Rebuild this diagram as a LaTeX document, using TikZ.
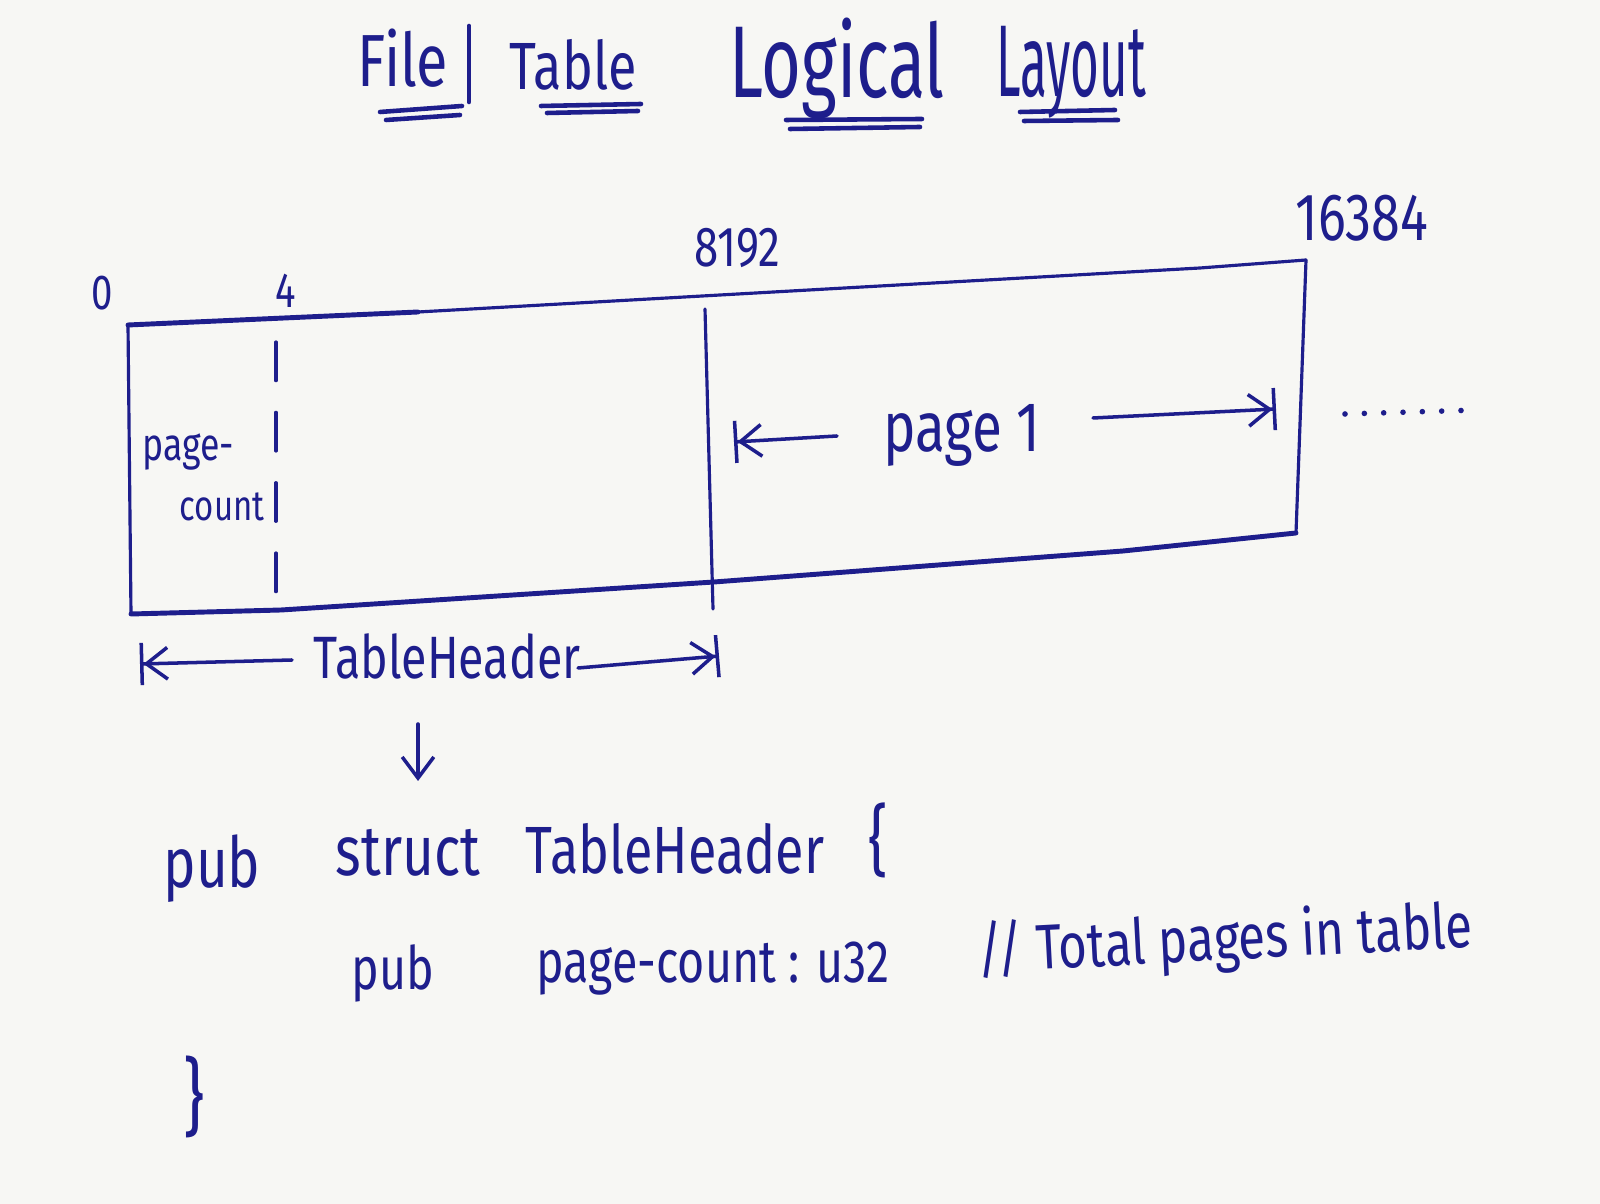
\documentclass[tikz,border=0pt]{standalone}
\usepackage{fontspec}
\usepackage{graphicx}
\newfontfamily\hand{Fira Sans}[FakeStretch=0.78]
\usetikzlibrary{arrows.meta}
\definecolor{ink}{RGB}{30,30,140}
\definecolor{paper}{RGB}{247,247,244}
\newcommand\squeeze[2]{\scalebox{#1}[1]{#2}}
\tikzset{
  lbl/.style={text=ink, inner sep=0pt},
  fs/.style={font={\hand\fontsize{#1}{#1}\selectfont}},
  boxline/.style={draw=ink, line width=0.9pt, line join=round, line cap=round},
  heavy/.style={draw=ink, line width=1.4pt, line join=round, line cap=round},
  ul/.style={draw=ink, line width=1.3pt, line cap=round},
  dimarrow/.style={draw=ink, line width=1pt, line cap=round,
    -{Straight Barb[length=6pt,width=9pt,line width=1pt]Bar[width=12pt,line width=1pt]}},
  downarrow/.style={draw=ink, line width=1pt, line cap=round,
    -{Straight Barb[length=6pt,width=9pt,line width=1pt]}}
}
\begin{document}
\begin{tikzpicture}[x=0.01cm,y=-0.01cm]
\fill[paper] (0,0) rectangle (1600,1204);
\useasboundingbox (0,0) rectangle (1600,1204);

% ---------- title ----------
\node[lbl,fs=21,anchor=base] (file) at (403,87) {File};
\node[lbl,fs=19,anchor=base] (table) at (573,90) {Table};
\node[lbl,fs=29,anchor=base] (logical) at (837,98) {\squeeze{0.86}{Logical}};
\node[lbl,fs=29,anchor=base] (layout) at (1071,97) {\squeeze{0.62}{Layout}};
\coordinate (barT) at (469,26);
\coordinate (barB) at (469,102);
\draw[ul] (barT) -- (barB);
% double underlines
\draw[ul] (380,112) -- (462,106);
\draw[ul] (386,120) -- (460,115);
\draw[ul] (541,106) -- (641,104);
\draw[ul] (547,113) -- (638,111);
\draw[ul] (786,120) -- (922,119);
\draw[ul] (790,129) -- (920,127);
\draw[ul] (1020,112) -- (1115,110);
\draw[ul] (1024,121) -- (1118,120);

% ---------- offsets ----------
\node[lbl,fs=14] (o0) at (102,293) {0};
\node[lbl,fs=14] (o4) at (286,291) {4};
\node[lbl,fs=16] (o8192) at (737,248) {8192};
\node[lbl,fs=19] (o16384) at (1362,218) {16384};

% ---------- the slab ----------
\coordinate (A) at (128,325);
\coordinate (B) at (1306,260);
\coordinate (C) at (1296,533);
\coordinate (D) at (131,614);
\draw[heavy] (A) -- (418,312);
\draw[boxline] (418,312) -- (1200,268) -- (B);
\draw[boxline] (B) -- (C);
\draw[heavy] (C) -- (1123,551) -- (714,582) -- (281,610) -- (D);
\draw[boxline] (D) -- (A);
% divider at 8192
\coordinate (divT) at (705,309);
\coordinate (divB) at (713,609);
\draw[boxline] (divT) -- (divB);
% dashed divider at 4
\coordinate (d4T) at (276,342);
\coordinate (d4B) at (276,612);
\draw[boxline, dash pattern=on 11pt off 9pt] (d4T) -- (d4B);

\node[lbl,fs=13] (pc1) at (188,452) {page-};
\node[lbl,fs=12] (pc2) at (222,507) {count};

% page 1
\node[lbl,fs=20,anchor=base] (p1) at (962,452) {page 1};
\coordinate (p1Ls) at (837,436);
\coordinate (p1Le) at (734,442);
\coordinate (p1Rs) at (1093,418);
\coordinate (p1Re) at (1276,409);
\draw[dimarrow] (p1Ls) -- (p1Le);
\draw[dimarrow] (p1Rs) -- (p1Re);

% continuation dots
\coordinate (dotS) at (1345,414);
\coordinate (dotE) at (1478,410);
\draw[draw=ink, line width=1.6pt, line cap=round, dash pattern=on 0pt off 5.5pt] (dotS) -- (dotE);

% ---------- TableHeader span ----------
\node[lbl,fs=17,anchor=base] (th) at (447,679) {TableHeader};
\coordinate (thLs) at (292,660);
\coordinate (thLe) at (140,664);
\coordinate (thRs) at (578,668);
\coordinate (thRe) at (719,656);
\draw[dimarrow] (thLs) -- (thLe);
\draw[dimarrow] (thRs) -- (thRe);
\coordinate (dnS) at (418,724);
\coordinate (dnE) at (418,781);
\draw[downarrow] (dnS) -- (dnE);

% ---------- struct ----------
\node[lbl,fs=20,anchor=base] (pub1) at (212,888) {pub};
\node[lbl,fs=20,anchor=base] (struct) at (408,876) {struct};
\node[lbl,fs=19,anchor=base] (thname) at (675,874) {TableHeader};
\node[lbl,fs=22,anchor=base] (lbrace) at (878,868) {\{};
\node[lbl,fs=17,anchor=base] (pub2) at (393,990) {pub};
\node[lbl,fs=17,anchor=base] (field) at (713,982) {page-count : u32};
\node[lbl,fs=18,anchor=base,rotate=3] (cmt) at (1226,960) {// Total pages in table};
\node[lbl,fs=24] (rbrace) at (194,1097) {\}};
\end{tikzpicture}
\end{document}
